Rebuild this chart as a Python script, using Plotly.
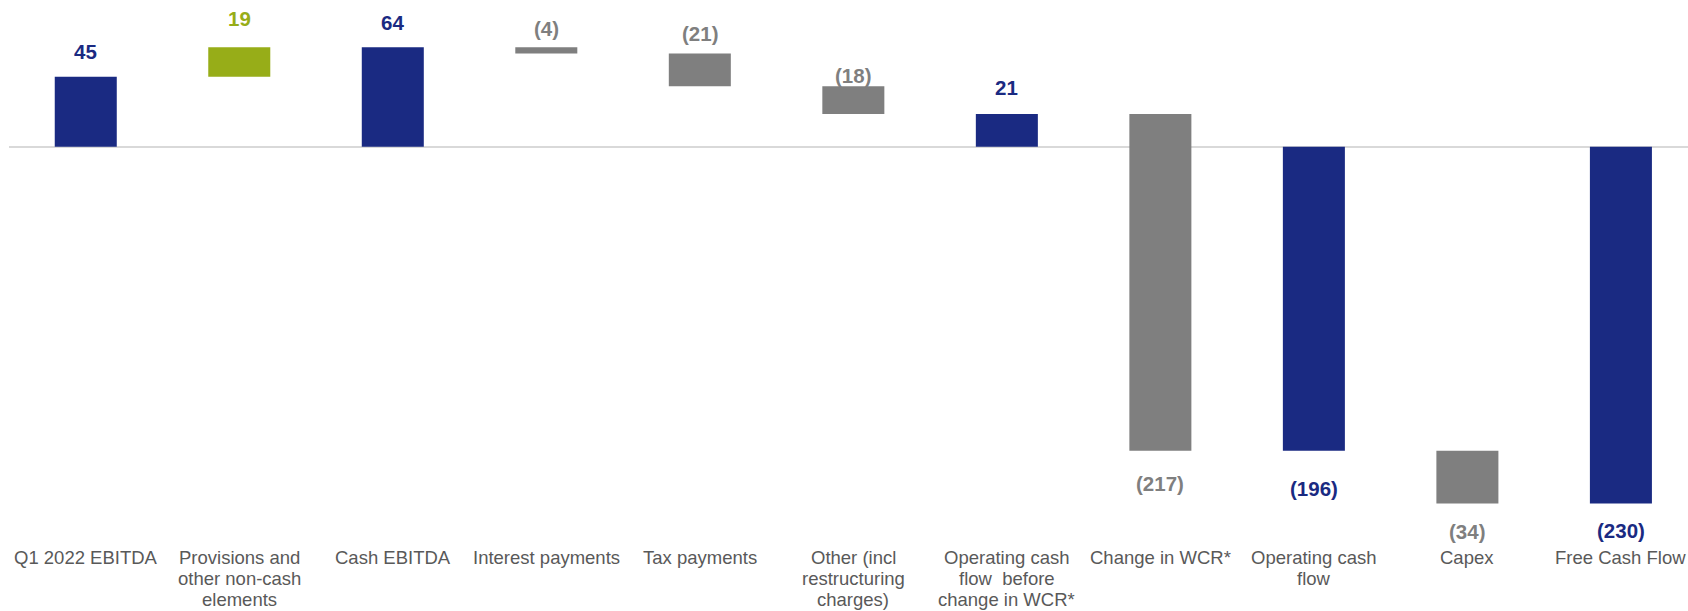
import plotly.graph_objects as go

# ---- data ----
categories = [
    "Q1 2022 EBITDA",
    "Provisions and<br>other non-cash<br>elements",
    "Cash EBITDA",
    "Interest payments",
    "Tax payments",
    "Other (incl<br>restructuring<br>charges)",
    "Operating cash<br>flow  before<br>change in WCR*",
    "Change in WCR*",
    "Operating cash<br>flow",
    "Capex",
    "Free Cash Flow",
]
measures = ["absolute", "relative", "total", "relative", "relative", "relative",
            "total", "relative", "total", "relative", "total"]
values = [45, 19, 64, -4, -21, -18, 21, -217, -196, -34, -230]

# ---- styles ----
NAVY = "#1A2A82"
GREEN = "#97AD18"
GREY = "#7F7F7F"
TEXT = "#595959"
FONT = "Liberation Sans, Arial, sans-serif"
H = 611
# vertical pixel offset of each value label from the bar end (positive = up)
label_shift = [25, 29, 25, 19, 20, 11, 27, -33, -38, -28, -27]
# pixel centre of category label lines
line_y = [557.5, 578.5, 599.0]

xs = list(range(len(categories)))

fig = go.Figure()
fig.add_trace(go.Waterfall(
    x=xs, y=values, measure=measures,
    width=0.404,
    increasing=dict(marker=dict(color=GREEN)),
    decreasing=dict(marker=dict(color=GREY)),
    totals=dict(marker=dict(color=NAVY)),
    connector=dict(visible=False),
    hoverinfo="skip",
))

annotations = []
running = 0
for i, (m, v) in enumerate(zip(measures, values)):
    if m == "relative":
        start, end = running, running + v
        running = end
        color = GREEN if v >= 0 else GREY
        shown = v
    elif m == "absolute":
        start, end = 0, v
        running = v
        color = NAVY
        shown = v
    else:
        start, end = 0, running
        color = NAVY
        shown = running
    txt = f"({abs(shown)})" if shown < 0 else f"{shown}"
    sh = label_shift[i]
    ay = max(start, end) if sh > 0 else min(start, end)
    annotations.append(dict(
        x=i, y=ay, xref="x", yref="y", text=f"<b>{txt}</b>", showarrow=False,
        yshift=sh, yanchor="middle", xanchor="center",
        font=dict(family=FONT, size=20.5, color=color),
    ))
    for k, line in enumerate(categories[i].split("<br>")):
        annotations.append(dict(
            x=i, y=1 - line_y[k] / H, xref="x", yref="paper", text=line,
            showarrow=False, yanchor="middle", xanchor="center", borderpad=0,
            font=dict(family=FONT, size=18.5, color=TEXT),
        ))

fig.update_layout(
    width=1688, height=H,
    margin=dict(l=9, r=0, t=0, b=0),
    paper_bgcolor="white", plot_bgcolor="white",
    showlegend=False,
    annotations=annotations,
    xaxis=dict(range=[-0.5, 10.437], showticklabels=False, showgrid=False,
               zeroline=False, showline=False, ticks=""),
    yaxis=dict(range=[-299.2, 94.5], showticklabels=False, showgrid=False,
               zeroline=True, zerolinecolor="#D9D9D9", zerolinewidth=2,
               showline=False, ticks=""),
)

fig.write_html("out.html")
